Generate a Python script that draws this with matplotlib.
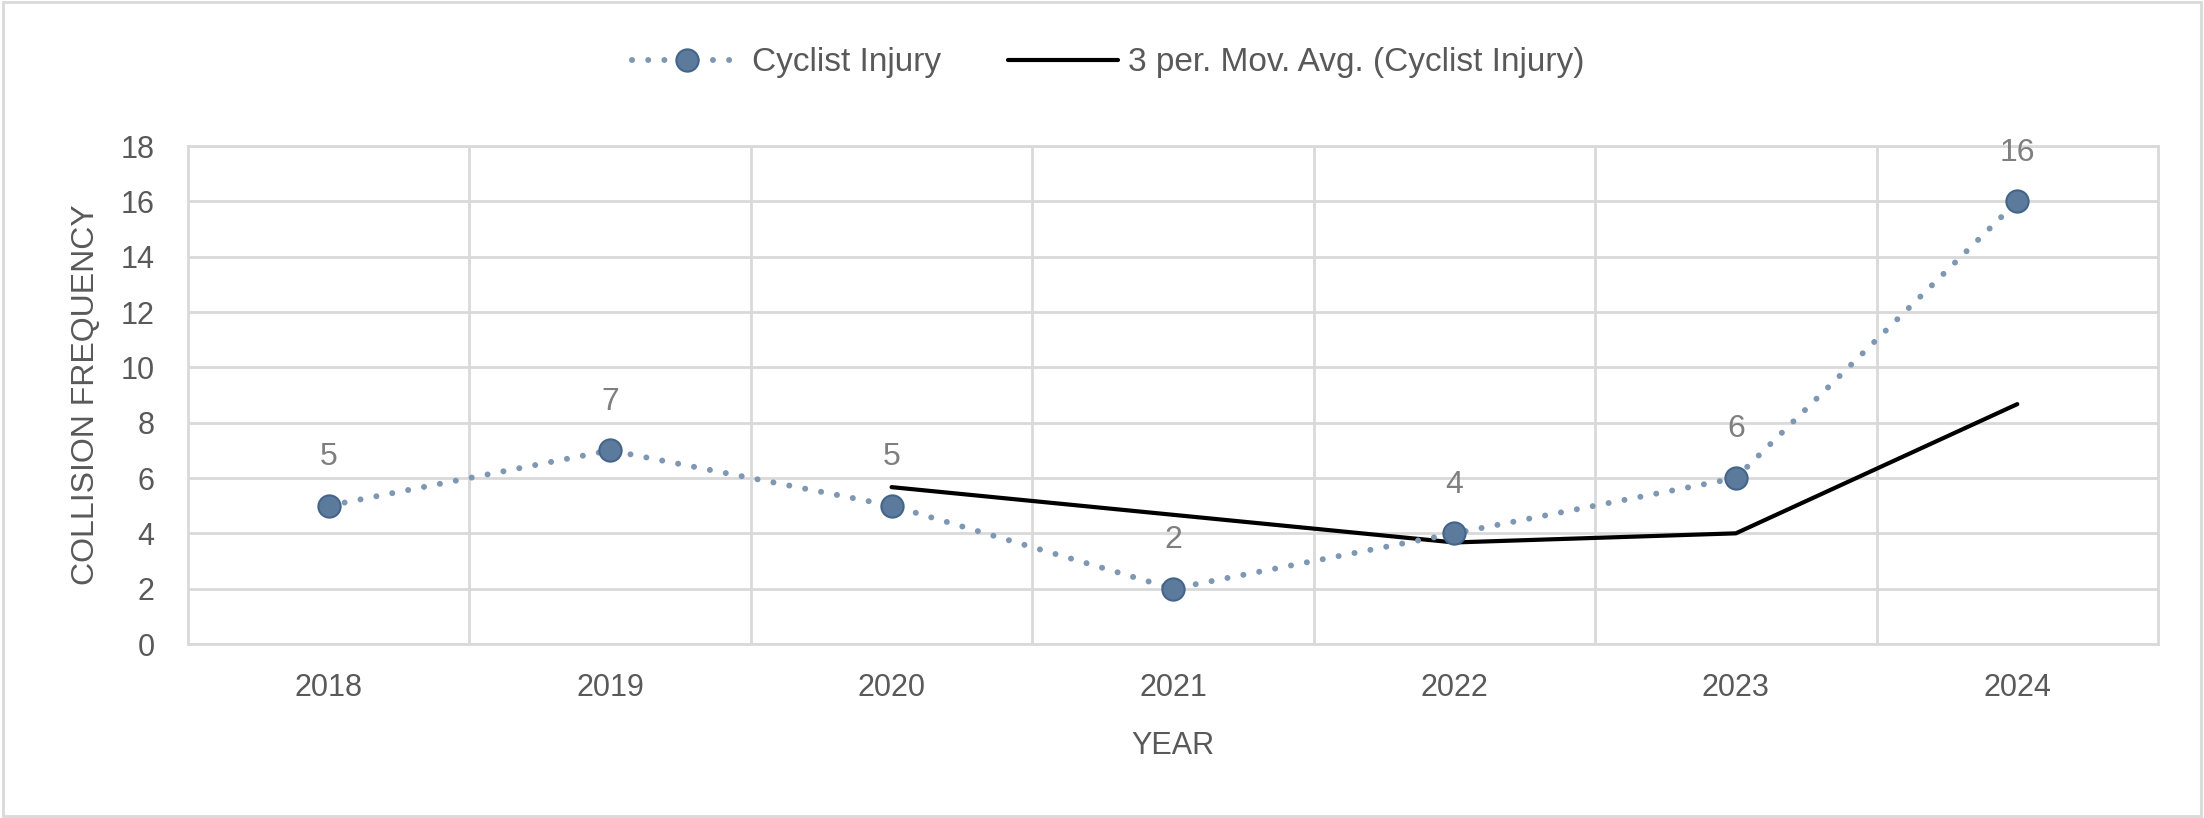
import matplotlib
matplotlib.use("Agg")
import matplotlib.pyplot as plt
from matplotlib.patches import Rectangle

years = ["2018", "2019", "2020", "2021", "2022", "2023", "2024"]
injuries = [5, 7, 5, 2, 4, 6, 16]
mov_avg_years = ["2020", "2021", "2022", "2023", "2024"]
mov_avg = [5.67, 4.67, 3.67, 4.0, 8.67]
y_ticks = [0, 2, 4, 6, 8, 10, 12, 14, 16, 18]

plt.rcParams['font.family'] = ['Liberation Sans', 'DejaVu Sans']

W, H = 2204, 818
fig = plt.figure(figsize=(W / 100, H / 100), dpi=100)
ax = fig.add_axes([188 / W, 1 - 644 / H, (2158 - 188) / W, (644 - 146) / H])

grid_c = "#d9d9d9"
text_c = "#595959"
line_c = "#7e97b3"
marker_c = "#5b7a9c"

x = list(range(len(years)))
xm = [years.index(y) for y in mov_avg_years]

l1, = ax.plot(x, injuries, color=line_c, lw=4.3, linestyle=(0, (0.01, 2.7)),
              dash_capstyle="round", marker="o", markersize=16,
              markerfacecolor=marker_c, markeredgecolor="#44658a",
              markeredgewidth=1.5, zorder=4,
              label="Cyclist Injury")
l2, = ax.plot(xm, mov_avg, color="black", lw=3, zorder=3,
              solid_capstyle="round",
              label="3 per. Mov. Avg. (Cyclist Injury)")

for xi, v in zip(x, injuries):
    ax.annotate(str(v), (xi, v), xytext=(0, 35), textcoords="offset points",
                ha="center", va="center", fontsize=23, color="#7f7f7f")

ax.set_xlim(-0.5, len(years) - 0.5)
ax.set_ylim(0, 18)
ax.set_yticks(y_ticks)
ax.set_xticks(x)
ax.set_xticklabels(years)
ax.set_xticks([i + 0.5 for i in range(len(years) - 1)], minor=True)
ax.grid(True, axis="y", which="major", color=grid_c, lw=2)
ax.grid(True, axis="x", which="minor", color=grid_c, lw=2)
ax.set_axisbelow(True)
ax.tick_params(axis="both", which="both", length=0, colors=text_c,
               labelsize=22)
ax.tick_params(axis="y", pad=24)
ax.tick_params(axis="x", pad=21)
for s in ax.spines.values():
    s.set_color(grid_c)
    s.set_linewidth(2)

ax.set_ylabel("COLLISION FREQUENCY", fontsize=23, color=text_c, labelpad=14)
ax.set_xlabel("YEAR", fontsize=22, color=text_c, labelpad=20)

fig.legend(handles=[l1, l2], loc="center", bbox_to_anchor=(0.503, 1 - 63 / H),
           ncol=2, frameon=False, fontsize=24, labelcolor=text_c,
           handlelength=3.3, columnspacing=2.0, handletextpad=0.3)

fig.patches.append(Rectangle((0.0015, 0.002), 0.997, 0.996, transform=fig.transFigure,
                             fill=False, edgecolor=grid_c, lw=2))

fig.savefig("out.png", dpi=100, facecolor="white")
